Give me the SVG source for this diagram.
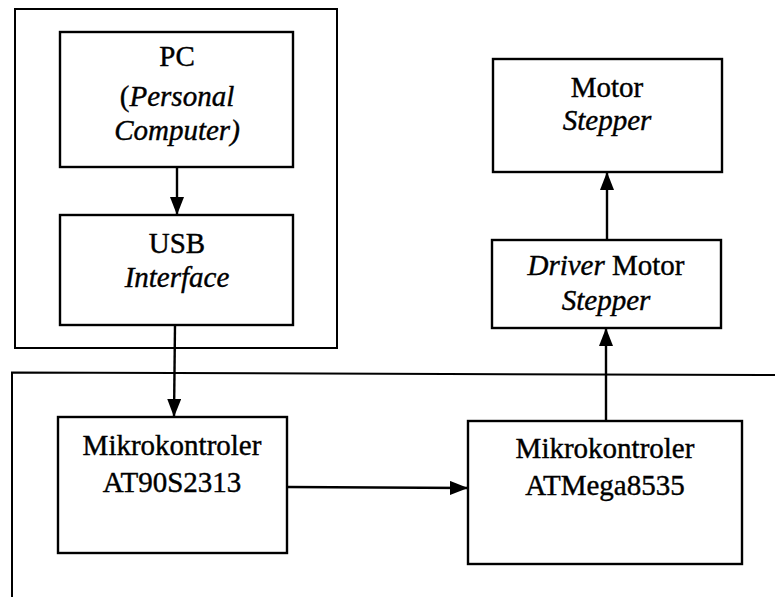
<svg xmlns="http://www.w3.org/2000/svg" width="775" height="597" viewBox="0 0 775 597">
<style>
.box{fill:none;stroke:#000;stroke-width:2.4}
.frame{fill:none;stroke:#000;stroke-width:2}
text{font-family:'Liberation Serif','DejaVu Serif','Times New Roman',serif;font-size:29px;fill:#000;stroke:#000;stroke-width:0.4;text-anchor:middle}
.i{font-style:italic}
.c{stroke:#000;stroke-width:2.4;fill:none}
</style>
<defs>
<marker id="ah" viewBox="0 0 18 14" refX="18" refY="7" markerWidth="18" markerHeight="14" markerUnits="userSpaceOnUse" orient="auto">
<path d="M0,0 L18,7 L0,14 Z" fill="#000"/>
</marker>
</defs>
<rect width="775" height="597" fill="#fff"/>
<g id="frames">
<rect class="frame" x="15" y="9" width="322" height="339"/>
<path class="frame" d="M12,597 L12,372.5 L775,375"/>
</g>
<g id="pc">
<rect class="box" x="60" y="32" width="233" height="135"/>
<text x="177" y="66">PC</text>
<text x="177" y="106">(<tspan class="i">Personal</tspan></text>
<text class="i" x="177" y="140">Computer)</text>
</g>
<g id="usb">
<rect class="box" x="60" y="215" width="233" height="110"/>
<text x="177" y="253">USB</text>
<text class="i" x="177" y="287">Interface</text>
</g>
<g id="mikro1">
<rect class="box" x="58" y="417" width="229" height="136"/>
<text x="172" y="455">Mikrokontroler</text>
<text x="172" y="492">AT90S2313</text>
</g>
<g id="mikro2">
<rect class="box" x="468" y="421" width="274" height="143"/>
<text x="605" y="458">Mikrokontroler</text>
<text x="605" y="495">ATMega8535</text>
</g>
<g id="driver">
<rect class="box" x="492" y="240" width="229" height="88"/>
<text x="606" y="275"><tspan class="i">Driver</tspan> Motor</text>
<text class="i" x="606" y="310">Stepper</text>
</g>
<g id="motor">
<rect class="box" x="493" y="59" width="229" height="113"/>
<text x="607" y="97">Motor</text>
<text class="i" x="607" y="130">Stepper</text>
</g>
<g id="connectors">
<line class="c" x1="177" y1="167" x2="177" y2="215" marker-end="url(#ah)"/>
<line class="c" x1="175" y1="325" x2="174" y2="417" marker-end="url(#ah)"/>
<line class="c" x1="287" y1="487" x2="468" y2="488" marker-end="url(#ah)"/>
<line class="c" x1="606" y1="421" x2="606" y2="328" marker-end="url(#ah)"/>
<line class="c" x1="607" y1="240" x2="607" y2="172" marker-end="url(#ah)"/>
</g>
</svg>
